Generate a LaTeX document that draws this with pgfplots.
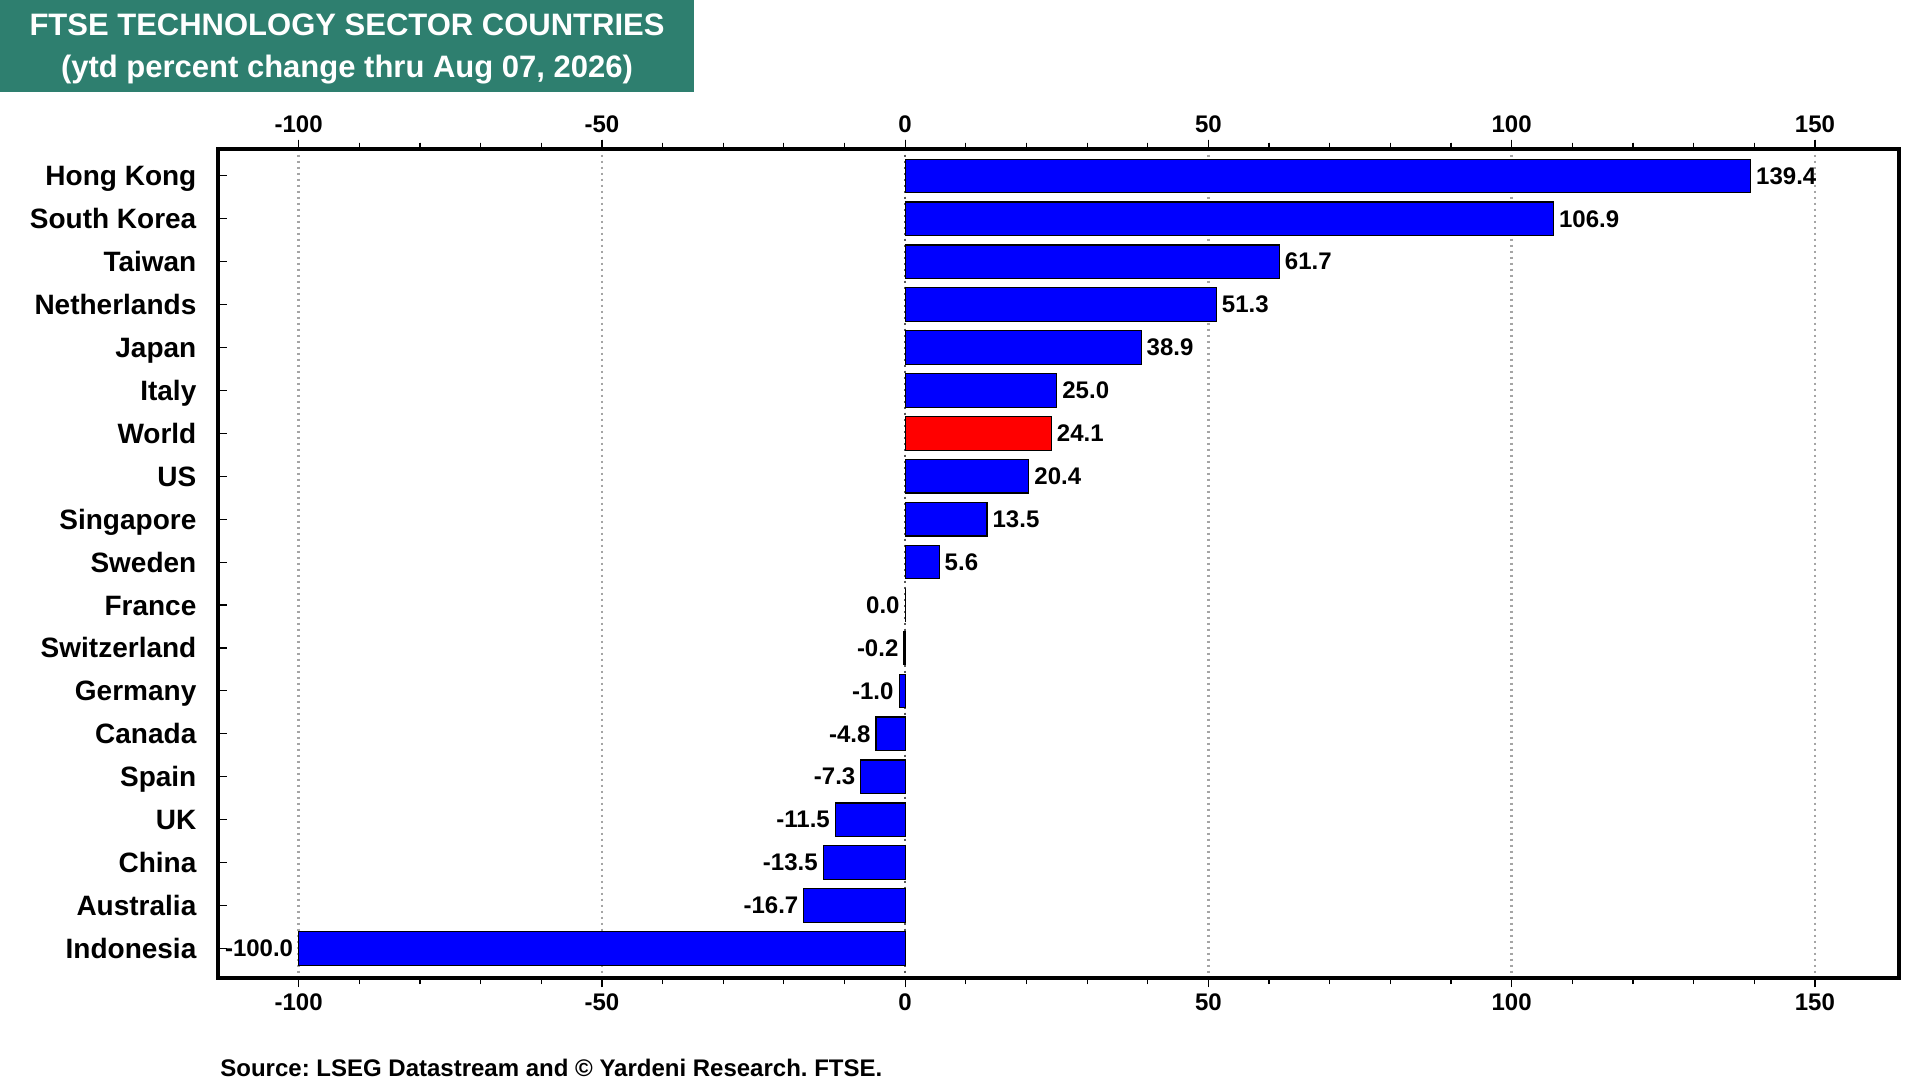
\documentclass[border=0pt]{standalone}
\usepackage{pgfplots}
\pgfplotsset{compat=1.18}
\usepackage{fontspec}
\setmainfont{Liberation Sans}
\frenchspacing
\definecolor{titlebg}{RGB}{46,127,111}
\definecolor{barblue}{RGB}{0,0,255}
\definecolor{barred}{RGB}{255,0,0}
\definecolor{gridgray}{RGB}{165,165,165}
\definecolor{zerogray}{RGB}{90,90,90}
\pgfplotsset{
  common/.style={
    scale only axis, width=840.6pt, height=414.7pt,
    at={(109pt,-74.3pt)}, anchor=north west,
    xmin=-113.3, xmax=163.9, ymin=-0.635, ymax=18.69, y dir=reverse,
    xtick={-100,-50,0,50,100,150},
    minor x tick num=4,
    axis line style={line width=2pt, black},
    tick align=outside,
    major tick length=4.5pt, minor tick length=3pt,
    every tick/.style={black, line width=0.6pt},
    /pgf/number format/assume math mode=true,
    x tick label style={font=\bfseries\fontsize{12}{14}\selectfont},
  }
}
\begin{document}
\begin{tikzpicture}
\useasboundingbox (0,0) rectangle (960pt,-540pt);
\fill[titlebg] (0,0) rectangle (347pt,-45.8pt);
\node[text=white, font=\bfseries\fontsize{15.5}{21}\selectfont, align=center] at (173.5pt,-24.6pt) {FTSE TECHNOLOGY SECTOR COUNTRIES\\(ytd percent change thru Aug 07, 2026)};
\begin{axis}[common,
  xbar, bar width=0.78, bar shift=0pt,
  xticklabel pos=lower,
  xmajorgrids,
  major grid style={gridgray, line width=1.3pt, dash pattern=on 1.3pt off 1.7pt},
  extra x ticks={0}, extra x tick labels={},
  extra x tick style={grid=major, major grid style={zerogray, line width=1pt, dash pattern=on 1.3pt off 1.7pt}},
  ytick={0,1,...,18},
  yticklabels={Hong Kong,South Korea,Taiwan,Netherlands,Japan,Italy,World,US,Singapore,Sweden,France,Switzerland,Germany,Canada,Spain,UK,China,Australia,Indonesia},
  ytick pos=left,
  y tick style={xshift=4.5pt},
  y tick label style={font=\bfseries\fontsize{14}{16}\selectfont, anchor=east, text height=10pt, text depth=0pt, xshift=-2.8pt},
  point meta=x,
  nodes near coords={\pgfmathprintnumber[fixed,fixed zerofill,precision=1]{\pgfplotspointmeta}},
  every node near coord/.append style={font=\bfseries\fontsize{12}{14}\selectfont, text=black, inner sep=2.5pt},
]
\addplot[draw=black, line width=0.6pt, fill=barblue, every node near coord/.append style={anchor=west}] coordinates {
  (139.4,0) (106.9,1) (61.7,2) (51.3,3) (38.9,4) (25.0,5) (20.4,7) (13.5,8) (5.6,9)
};
\addplot[draw=black, line width=0.6pt, fill=barred, every node near coord/.append style={anchor=west}] coordinates {
  (24.1,6)
};
\addplot[draw=black, line width=0.6pt, fill=barblue, every node near coord/.append style={anchor=east}] coordinates {
  (0.0,10) (-0.2,11) (-1.0,12) (-4.8,13) (-7.3,14) (-11.5,15) (-13.5,16) (-16.7,17) (-100.0,18)
};
\end{axis}
\begin{axis}[common,
  xticklabel pos=upper,
  ytick=\empty,
]
\end{axis}
\node[anchor=base west, font=\bfseries\fontsize{12}{14}\selectfont, inner sep=0pt] at (110pt,-538pt) {Source: LSEG Datastream and © Yardeni Research. FTSE.};
\end{tikzpicture}
\end{document}
